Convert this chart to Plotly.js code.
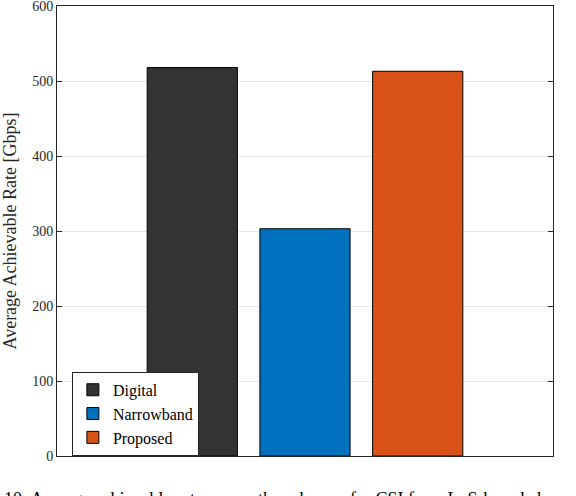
<!DOCTYPE html>
<html>
<head>
<meta charset="utf-8">
<script src="https://cdn.plot.ly/plotly-3.0.1.min.js"></script>
<style>html,body{margin:0;padding:0;background:#fff;overflow:hidden;}#chart{width:576px;height:496px;}</style>
</head>
<body>
<div id="chart"></div>
<script>
const schemes = ["Digital", "Narrowband", "Proposed"];
const rates = [518, 303, 513];
const colors = ["#333333", "#0072BD", "#D95319"];
const yTicks = [0, 100, 200, 300, 400, 500, 600];
const caption = "10: Average achievable rate versus the schemes for CSI from LoS-based channel";

const serif = "Liberation Serif, DejaVu Serif, serif";
const traces = schemes.map((s, i) => ({
  type: "bar",
  name: s,
  x: [s],
  y: [rates[i]],
  width: 0.8,
  marker: {color: colors[i], line: {color: "#000000", width: 1}},
  hoverinfo: "name+y"
}));

const layout = {
  width: 576, height: 496,
  margin: {l: 57, r: 23, t: 6, b: 40},
  paper_bgcolor: "#ffffff", plot_bgcolor: "#ffffff",
  barmode: "overlay",
  showlegend: true,
  font: {family: serif, color: "#262626"},
  xaxis: {
    type: "category",
    categoryorder: "array", categoryarray: schemes,
    range: [-1.2, 3.2],
    showticklabels: false, ticks: "",
    showgrid: false, zeroline: false,
    showline: true, linecolor: "#262626", linewidth: 1, mirror: true
  },
  yaxis: {
    range: [0, 600],
    tickmode: "array",
    tickvals: yTicks, ticktext: yTicks.map(String),
    ticklabeloverflow: "allow",
    ticks: "inside", ticklen: 5, tickcolor: "#262626", mirror: "ticks",
    showline: true, linecolor: "#262626", linewidth: 1,
    showgrid: true, gridcolor: "#e8e8e8", gridwidth: 1,
    zeroline: false,
    tickfont: {family: serif, size: 14, color: "#262626"},
    title: {text: "Average Achievable Rate [Gbps]", font: {family: serif, size: 18, color: "#262626"}, standoff: 10}
  },
  legend: {
    x: 0.03, y: 0.187, xanchor: "left", yanchor: "top",
    bgcolor: "#ffffff", bordercolor: "#262626", borderwidth: 1,
    font: {family: serif, size: 16, color: "#000000"},
    tracegroupgap: 0, itemwidth: 30
  },
  annotations: [{
    xref: "paper", yref: "paper",
    x: -0.111, y: -0.069, xanchor: "left", yanchor: "top",
    text: caption, showarrow: false,
    font: {family: serif, size: 18, color: "#000000"}
  }]
};

Plotly.newPlot("chart", traces, layout, {displayModeBar: false, staticPlot: true});
</script>
</body>
</html>
